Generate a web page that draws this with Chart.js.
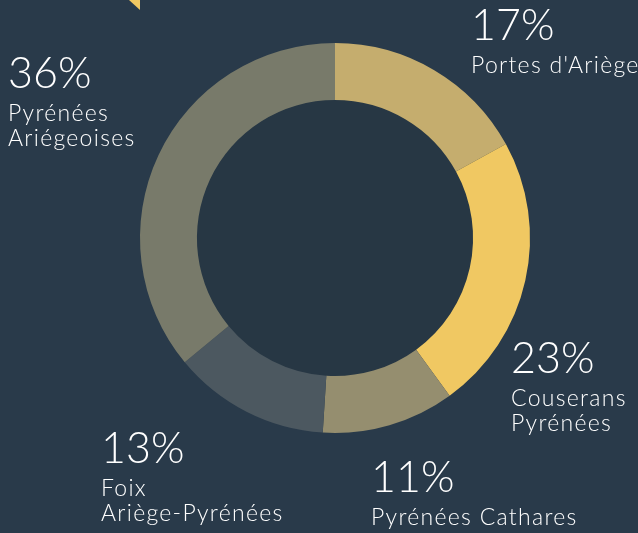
<!DOCTYPE html>
<html>
<head>
<meta charset="utf-8">
<script src="https://cdn.jsdelivr.net/npm/chart.js@4"></script>
<style>
	html, body { margin: 0; padding: 0; background: #293a4a; overflow: hidden; }
	#wrap { position: relative; width: 638px; height: 533px; }
	#corner { position: absolute; left: 129px; top: 0; width: 11px; height: 10px; background: #f0c862; clip-path: polygon(0 0, 100% 0, 100% 100%); }
</style>
</head>
<body>
<div id="wrap">
	<canvas id="chart" width="638" height="533"></canvas>
	<div id="corner"></div>
</div>
<script>
// chart data
const regions = ["Portes d'Ariège", 'Couserans Pyrénées', 'Pyrénées Cathares', 'Foix Ariège-Pyrénées', 'Pyrénées Ariégeoises'];
const nameLines = [["Portes d'Ariège"], ['Couserans', 'Pyrénées'], ['Pyrénées Cathares'], ['Foix', 'Ariège-Pyrénées'], ['Pyrénées', 'Ariégeoises']];
const shares = [17, 23, 11, 13, 36];
const colors = ['#c5ad6e', '#f0c862', '#958e6f', '#4c5860', '#787a6a'];

// where each label block sits: left x, baseline of the percentage
const labelPos = [[471, 40], [511, 373], [371, 492], [101, 463], [8, 88]];

const font = 'Lato, "Open Sans", sans-serif';

// darker disc inside the ring, and the text labels
const ringExtras = {
	id: 'ringExtras',
	beforeDatasetsDraw(chart) {
		let arc = chart.getDatasetMeta(0).data[0];
		let c = chart.ctx;
		c.save();
		c.fillStyle = '#273744';
		c.beginPath();
		c.arc(arc.x, arc.y, arc.innerRadius + 1, 0, Math.PI * 2);
		c.fill();
		c.restore();
	},
	afterDraw(chart) {
		let c = chart.ctx;
		c.save();
		c.fillStyle = '#ffffff';
		c.textBaseline = 'alphabetic';
		c.textAlign = 'left';
		shares.forEach((v, i) => {
			let [x, y] = labelPos[i];
			c.letterSpacing = '0px';
			c.font = '300 43px ' + font;
			c.fillText(v + '%', x, y);
			c.letterSpacing = '1.3px';
			c.font = '300 23px ' + font;
			nameLines[i].forEach((line, j) => {
				c.fillText(line, x, y + 33 + j * 25);
			});
		});
		c.restore();
	}
};

let ctx = document.getElementById('chart').getContext('2d');

let chart = new Chart(ctx, {
	type: 'doughnut',
	data: {
		labels: regions,
		datasets: [{
			data: shares,
			backgroundColor: colors,
			borderWidth: 0,
			hoverOffset: 0
		}]
	},
	options: {
		responsive: false,
		animation: false,
		cutout: '70.8%',
		layout: {
			padding: {left: 140, right: 108, top: 43, bottom: 100}
		},
		plugins: {
			legend: {display: false},
			tooltip: {enabled: false}
		}
	},
	plugins: [ringExtras]
});
</script>
</body>
</html>
